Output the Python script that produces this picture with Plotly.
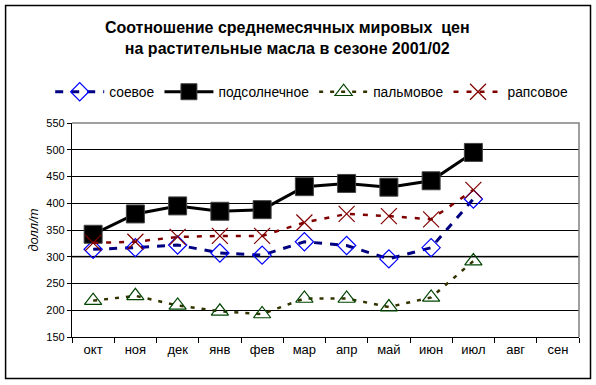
import plotly.graph_objects as go

months = ["окт", "ноя", "дек", "янв", "фев", "мар", "апр", "май", "июн", "июл", "авг", "сен"]
soy = [314, 317, 322, 307, 303, 328, 321, 296, 317, 408, None, None]
sunflower = [342, 380, 395, 385, 388, 431, 437, 430, 442, 495, None, None]
palm = [218, 227, 209, 198, 193, 222, 222, 206, 224, 292, None, None]
rapeseed = [326, 328, 337, 339, 339, 364, 380, 376, 370, 425, None, None]

yticks = [150, 200, 250, 300, 350, 400, 450, 500, 550]
title_text = "Соотношение среднемесячных мировых  цен<br>на растительные масла в сезоне 2001/02"

FONT = "Liberation Sans, Arial, sans-serif"

fig = go.Figure()
fig.add_trace(go.Scatter(
    x=months, y=soy, name="соевое", mode="lines+markers",
    line=dict(color="#000080", width=3, dash="8px,8px"),
    marker=dict(symbol="diamond-open", size=14, color="#0000ff", line=dict(width=1.2, color="#0000ff")),
))
fig.add_trace(go.Scatter(
    x=months, y=sunflower, name="подсолнечное", mode="lines+markers",
    line=dict(color="#000000", width=3),
    marker=dict(symbol="square", size=18, color="#000000", line=dict(width=1, color="#444444")),
))
fig.add_trace(go.Scatter(
    x=months, y=palm, name="пальмовое", mode="lines+markers",
    line=dict(color="#333300", width=2.5, dash="4px,7px"),
    marker=dict(symbol="triangle-up-open", size=15, color="#004400", line=dict(width=1.2, color="#004400")),
))
fig.add_trace(go.Scatter(
    x=months, y=rapeseed, name="рапсовое", mode="lines+markers",
    line=dict(color="#800000", width=2.5, dash="5px,8px"),
    marker=dict(symbol="x-thin-open", size=16, color="#800000", line=dict(width=1.2, color="#800000")),
))

# grey emphasis on the 300 line, as in the original
fig.add_hline(y=300, line=dict(color="#707070", width=2), layer="below")
# plot-area top/right border (grey)
fig.add_shape(type="path", xref="paper", yref="paper", path="M 0,1 L 1,1 L 1,0",
              line=dict(color="#808080", width=1.5), layer="above")
# outer chart border
fig.add_shape(type="rect", xref="paper", yref="paper",
              x0=-0.131, x1=1.0227, y0=-0.194, y1=1.549,
              line=dict(color="#000000", width=1.5), layer="above")

fig.update_layout(
    width=596, height=385,
    margin=dict(l=72, r=17, t=123, b=48),
    paper_bgcolor="white", plot_bgcolor="white",
    font=dict(family=FONT, color="#000000", size=12),
    title=dict(text=title_text, x=0.482, xref="container", xanchor="center", y=0.914, yanchor="top",
               font=dict(family=FONT, size=16, color="#000000", weight="bold")),
    legend=dict(orientation="h", x=-0.043, xanchor="left", y=1.146, yanchor="middle",
                font=dict(family=FONT, size=13.8), itemwidth=49, tracegroupgap=0,
                bgcolor="rgba(0,0,0,0)"),
    showlegend=True,
)
fig.update_xaxes(
    type="category", categoryorder="array", categoryarray=months, range=[-0.5, 11.5],
    showline=True, linecolor="#000000", linewidth=1.2, showgrid=False,
    ticks="outside", tickson="boundaries", ticklen=5, tickcolor="#000000",
    tickfont=dict(family=FONT, size=13), zeroline=False,
)
fig.update_yaxes(
    range=[150, 550], tickvals=yticks, showline=True, linecolor="#000000", linewidth=1.2,
    showgrid=True, gridcolor="#000000", gridwidth=1,
    ticks="outside", ticklen=4, tickcolor="#000000",
    tickfont=dict(family=FONT, size=11), zeroline=False,
    title=dict(text="<i>долл/т</i>", font=dict(family=FONT, size=13), standoff=4),
)

fig.write_html("out.html", config={"displayModeBar": False},
               post_script="document.body.style.margin='0px';")
